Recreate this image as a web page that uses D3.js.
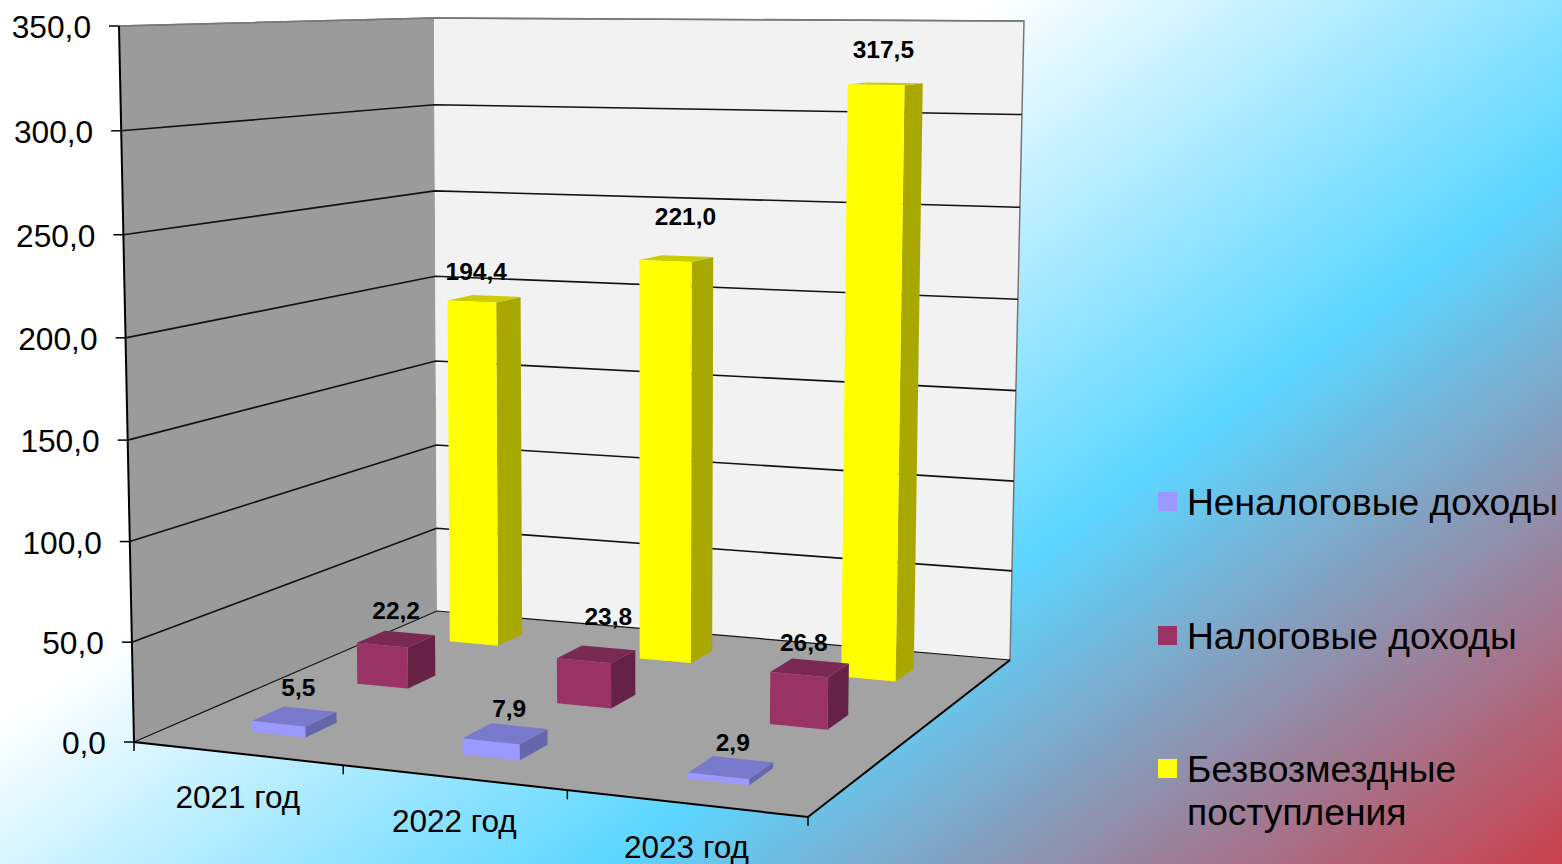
<!DOCTYPE html>
<html>
<head>
<meta charset="utf-8">
<script src="https://d3js.org/d3.v7.min.js"></script>
<style>
html, body { margin: 0; padding: 0; background: #fff; overflow: hidden; }
text { font-family: "Liberation Sans", Arial, sans-serif; fill: #000; }
</style>
</head>
<body>
<svg id="chart" width="1562" height="864"></svg>
<script>
var categories = ['2021 год', '2022 год', '2023 год'];
var seriesNames = ['Неналоговые доходы', 'Налоговые доходы', 'Безвозмездные поступления'];
var nonTax = [5.5, 7.9, 2.9];
var tax = [22.2, 23.8, 26.8];
var grants = [194.4, 221.0, 317.5];
var valueMax = 350;

// layout only, no data below this line
var seriesValues = [nonTax, tax, grants];
var faceColors = [
    {front: '#9999ff', top: '#7a7acc', side: '#6666aa'},
    {front: '#993366', top: '#7a2952', side: '#662244'},
    {front: '#ffff00', top: '#cccc00', side: '#a8a800'}
];
var legendRows = [
    {lines: ['Неналоговые доходы'], y: 515},
    {lines: ['Налоговые доходы'], y: 649},
    {lines: ['Безвозмездные', 'поступления'], y: 782}
];
// label nudges per series / category (Excel had them dragged by hand)
var labelNudge = [
    [[4, -29], [4, -25], [2, -25]],
    [[0, -29], [12, -38], [-6, -25]],
    [[-8, -27], [9, -42], [-2, -34]]
];

var floorQuad = [[134, 742], [808, 817], [1010, 660], [437, 611]];
var topQuad = [[119, 26], [819, 31], [1024, 21], [434, 18]];

function quadMap(q) {
    var x0 = q[0][0], y0 = q[0][1], x1 = q[1][0], y1 = q[1][1];
    var x2 = q[2][0], y2 = q[2][1], x3 = q[3][0], y3 = q[3][1];
    var dx1 = x1 - x2, dx2 = x3 - x2, sx = x0 - x1 + x2 - x3;
    var dy1 = y1 - y2, dy2 = y3 - y2, sy = y0 - y1 + y2 - y3;
    var den = dx1 * dy2 - dx2 * dy1;
    var g = (sx * dy2 - dx2 * sy) / den;
    var h = (dx1 * sy - sx * dy1) / den;
    var a = x1 - x0 + g * x1, b = x3 - x0 + h * x3;
    var d = y1 - y0 + g * y1, e = y3 - y0 + h * y3;
    return function(u, v) {
        var w = g * u + h * v + 1;
        return [(a * u + b * v + x0) / w, (d * u + e * v + y0) / w];
    };
}

var floorMap = quadMap(floorQuad);
var topMap = quadMap(topQuad);

var xScale = d3.scaleBand().domain(d3.range(categories.length)).range([0, 1]);
var zScale = d3.scaleBand().domain(d3.range(seriesNames.length)).range([0, 1]);
var yScale = d3.scaleLinear().domain([0, valueMax]).range([0, 1]);
var barU = 0.26 * xScale.bandwidth();
var barV = 0.29 * zScale.bandwidth();

// u along the front edge, v into the depth, val up the wall
function project(u, v, val) {
    var t = yScale(val);
    t = 0.972 * t / (1 - 0.028 * t);
    var a = floorMap(u, v), b = topMap(u, v);
    return [a[0] + (b[0] - a[0]) * t, a[1] + (b[1] - a[1]) * t];
}

var svg = d3.select('#chart');
var line = d3.line();

var defs = svg.append('defs');
var grad = defs.append('linearGradient')
    .attr('id', 'bg')
    .attr('gradientUnits', 'userSpaceOnUse')
    .attr('x1', 0).attr('y1', 0)
    .attr('x2', 956).attr('y2', 1313);
grad.append('stop').attr('offset', 0.36).attr('stop-color', '#ffffff');
grad.append('stop').attr('offset', 0.65).attr('stop-color', '#5cd6ff');
grad.append('stop').attr('offset', 1).attr('stop-color', '#cc3e4c');

svg.append('rect').attr('width', 1562).attr('height', 864).attr('fill', 'url(#bg)');

function face(g, pts, fill) {
    g.append('path').attr('d', line(pts) + 'Z').attr('fill', fill).attr('stroke', 'none');
}

// walls and floor
var walls = svg.append('g');
face(walls, [project(0, 0, 0), project(0, 0, valueMax), project(0, 1, valueMax), project(0, 1, 0)], '#9b9b9b');
face(walls, [project(0, 1, 0), project(0, 1, valueMax), project(1, 1, valueMax), project(1, 1, 0)], '#f2f2f2');
face(walls, [project(0, 0, 0), project(1, 0, 0), project(1, 1, 0), project(0, 1, 0)], '#a3a3a3');

walls.append('path')
    .attr('d', line([project(0, 0, valueMax), project(0, 1, valueMax), project(1, 1, valueMax), project(1, 1, 0)]))
    .attr('fill', 'none').attr('stroke', '#777').attr('stroke-width', 1.5);

// gridlines and value axis
var ticks = yScale.ticks(7);
var fmt = d3.formatLocale({decimal: ',', thousands: ' ', grouping: [3], currency: ['', '']}).format('.1f');

ticks.forEach(function(t) {
    var color = t === valueMax ? '#777' : '#111';
    walls.append('path')
        .attr('d', line([project(0, 0, t), project(0, 1, t), project(1, 1, t)]))
        .attr('fill', 'none').attr('stroke', color).attr('stroke-width', t === 0 ? 1.2 : 1.6);
    var p = project(0, 0, t);
    walls.append('path')
        .attr('d', line([[p[0] - 10, p[1]], p]))
        .attr('stroke', '#000').attr('stroke-width', 1.5);
    svg.append('text')
        .attr('x', p[0] - 28)
        .attr('y', p[1] + 1)
        .attr('dy', '0.35em')
        .attr('text-anchor', 'end')
        .attr('font-size', 31.7)
        .text(fmt(t));
});

walls.append('path')
    .attr('d', line([project(0, 0, valueMax), project(0, 0, 0), project(1, 0, 0), project(1, 1, 0)]))
    .attr('fill', 'none').attr('stroke', '#000').attr('stroke-width', 2);

// category ticks and labels
d3.range(categories.length + 1).forEach(function(i) {
    var p = floorMap(i / categories.length, 0);
    walls.append('path')
        .attr('d', line([p, [p[0], p[1] + 9]]))
        .attr('stroke', '#000').attr('stroke-width', 1.5);
});
categories.forEach(function(c, i) {
    var p = floorMap(xScale(i) + xScale.bandwidth() / 2, 0);
    svg.append('text')
        .attr('x', p[0] + 1)
        .attr('y', p[1] + 43.5)
        .attr('dy', '0.35em')
        .attr('text-anchor', 'middle')
        .attr('font-size', 31.5)
        .text(c);
});

// bars, back row first
var bars = svg.append('g');
var labels = [];
d3.range(seriesNames.length).reverse().forEach(function(s) {
    categories.forEach(function(c, i) {
        var val = seriesValues[s][i];
        var uc = xScale(i) + xScale.bandwidth() / 2 + 0.002;
        var vc = zScale(s) + zScale.bandwidth() / 2;
        var u0 = uc - barU / 2, u1 = uc + barU / 2;
        var v0 = vc - barV / 2, v1 = vc + barV / 2;
        var g = bars.append('g');
        face(g, [project(u1, v0, 0), project(u1, v1, 0), project(u1, v1, val), project(u1, v0, val)], faceColors[s].side);
        face(g, [project(u0, v0, val), project(u1, v0, val), project(u1, v1, val), project(u0, v1, val)], faceColors[s].top);
        face(g, [project(u0, v0, 0), project(u1, v0, 0), project(u1, v0, val), project(u0, v0, val)], faceColors[s].front);
        var p = project(uc, vc, val);
        labels.push({x: p[0] + labelNudge[s][i][0], y: p[1] + labelNudge[s][i][1], text: fmt(val)});
    });
});

svg.append('g').selectAll('text')
    .data(labels)
    .enter()
    .append('text')
    .attr('x', function(d) { return d.x; })
    .attr('y', function(d) { return d.y; })
    .attr('dy', '0.35em')
    .attr('text-anchor', 'middle')
    .attr('font-size', 24.5)
    .attr('font-weight', 'bold')
    .text(function(d) { return d.text; });

// legend
legendRows.forEach(function(row, i) {
    svg.append('rect')
        .attr('x', 1158)
        .attr('y', row.y - 23)
        .attr('width', 19)
        .attr('height', 19)
        .attr('fill', faceColors[i].front);
    row.lines.forEach(function(t, j) {
        svg.append('text')
            .attr('x', 1187)
            .attr('y', row.y + j * 43)
            .attr('font-size', 37.2)
            .text(t);
    });
});
</script>
</body>
</html>
